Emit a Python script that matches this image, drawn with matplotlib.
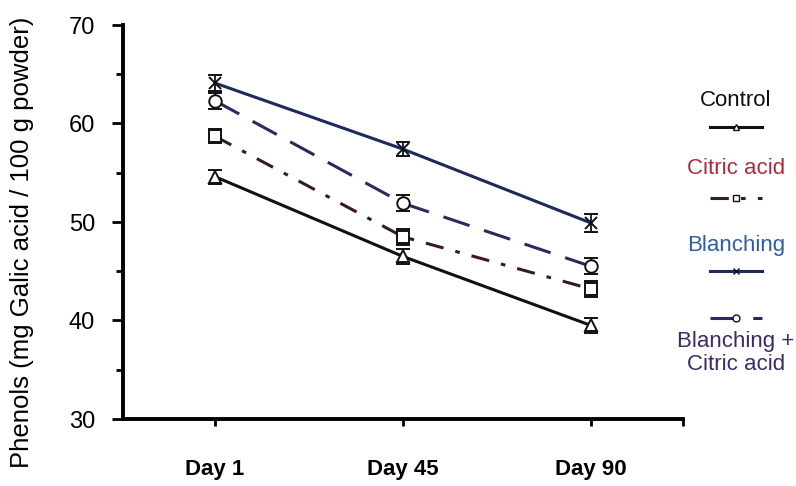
import matplotlib
matplotlib.use("Agg")
import matplotlib.pyplot as plt
from matplotlib.lines import Line2D

plt.rcParams['font.family'] = ['Liberation Sans', 'DejaVu Sans']

days = ["Day 1", "Day 45", "Day 90"]
control = [54.6, 46.5, 39.5]
citric = [58.7, 48.5, 43.2]
blanching = [64.1, 57.4, 49.9]
blanch_citric = [62.3, 51.9, 45.5]
err_control = [0.7, 0.8, 0.8]
err_citric = [0.7, 0.8, 0.8]
err_blanching = [0.8, 0.7, 0.9]
err_blanch_citric = [0.8, 0.8, 0.8]

series = [
    ("Control", control, err_control, '-', '^', '#111111', '#111111'),
    ("Citric acid", citric, err_citric, (0, (6, 4, 1.5, 4)), 's', '#3a1a22', '#b02a3c'),
    ("Blanching", blanching, err_blanching, '-', 'x', '#1c2a5c', '#2f5ea8'),
    ("Blanching +\nCitric acid", blanch_citric, err_blanch_citric, (0, (9, 5)), 'o', '#2b2a5e', '#3d2a66'),
]

fig = plt.figure(figsize=(7.96, 4.86), dpi=100)
ax = fig.add_axes([123/796, 1-419/486, (683-123)/796, (419-25)/486])
x = list(range(len(days)))
for name, vals, errs, ls, mk, col, tcol in series:
    ax.errorbar(x, vals, yerr=errs, color=col, linestyle=ls, linewidth=2.2,
                marker=mk, markersize=9 if mk != 'x' else 8, markerfacecolor='white',
                markeredgecolor='#111111', markeredgewidth=1.4,
                ecolor='#111111', elinewidth=1.3, capsize=5, capthick=1.4)

xmin, xmax = -0.49, 2.49
ax.set_xlim(xmin, xmax)
ax.set_ylim(30, 70)
ax.set_yticks([30, 40, 50, 60, 70])
ax.set_yticks([35, 45, 55, 65], minor=True)
ax.set_xticks(x)
ax.set_xticks([xmax], minor=True)
ax.set_xticklabels(days, fontsize=16, fontweight='bold')
ax.tick_params(axis='x', which='both', length=5, width=2, pad=24)
ax.tick_params(axis='y', which='major', length=8, width=2, labelsize=17, pad=12)
ax.tick_params(axis='y', which='minor', length=5, width=2)
for s in ['top', 'right']:
    ax.spines[s].set_visible(False)
for s in ['left', 'bottom']:
    ax.spines[s].set_linewidth(2.8)
fig.text(22/796, 1 - 242/486, "Phenols (mg Galic acid / 100 g powder)", rotation=90,
         ha='center', va='center', fontsize=18.5)

# legend built manually on the right
cx = 736/796
text_y = [100, 168, 245, None]
sample_y = [127, 198, 271, 318]
for (name, vals, errs, ls, mk, col, tcol), ty, sy in zip(series, text_y, sample_y):
    fy = 1 - sy/486
    fig.add_artist(Line2D([cx - 26/796, cx + 26/796], [fy, fy], transform=fig.transFigure,
                          color=col, linestyle=ls, linewidth=2.2))
    fig.add_artist(Line2D([cx], [fy], transform=fig.transFigure, marker=mk, markersize=5,
                          markerfacecolor='white', markeredgecolor='#111111', markeredgewidth=1))
    if ty is not None:
        fig.text(cx, 1 - ty/486, name, ha='center', va='center', fontsize=16, color=tcol)
    else:
        fig.text(cx, 1 - 353/486, name, ha='center', va='center', fontsize=16, color=tcol,
                 linespacing=1.1)

fig.savefig("out.png", dpi=100)
